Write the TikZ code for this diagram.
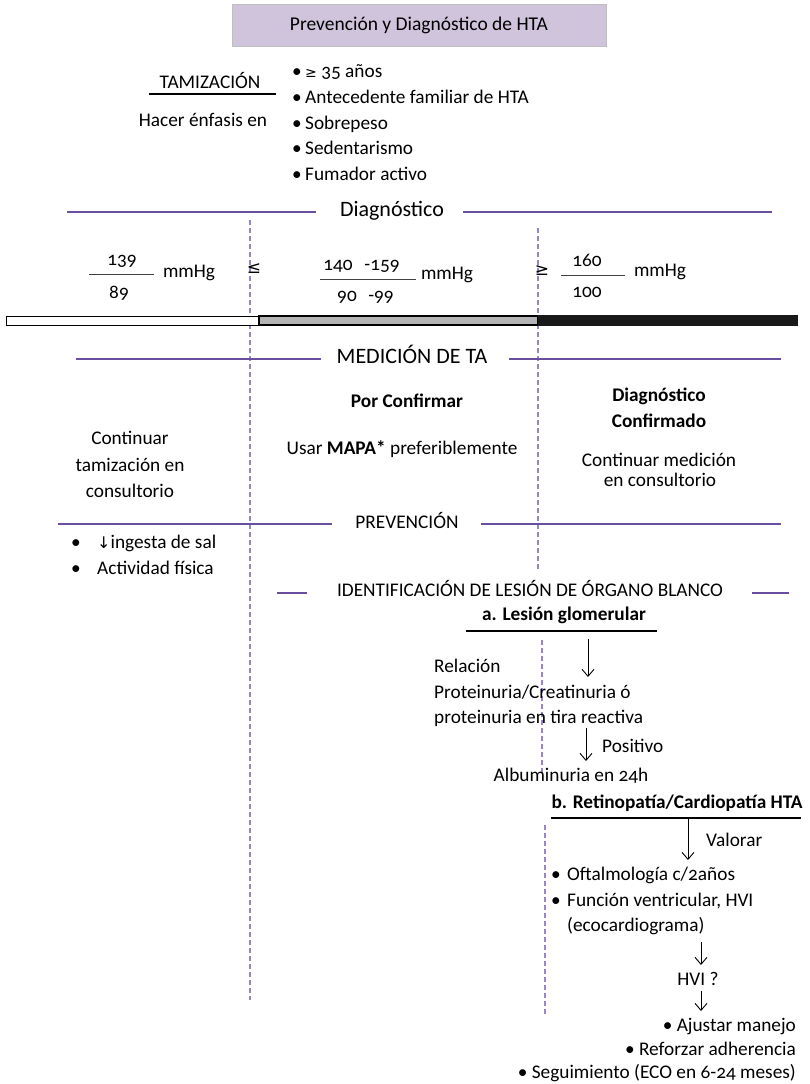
\documentclass[tikz,border=0pt]{standalone}
\usepackage{fontspec}
\setmainfont{Carlito}[Numbers=OldStyle]
\newfontfamily\symfont{DejaVu Sans}
\usetikzlibrary{positioning,arrows.meta}
\definecolor{titlefill}{HTML}{D0C4DC}
\definecolor{rulecol}{HTML}{6A4FA0}
\definecolor{dashcol}{HTML}{9B84C8}
\definecolor{bargray}{HTML}{B4B4B4}
\tikzset{
  txt/.style={inner sep=0pt, text height=12pt, text depth=3pt, font=\fontsize{19.3}{23}\selectfont},
  boldtxt/.style={txt, font=\fontsize{19.3}{23}\selectfont\bfseries},
  headtxt/.style={txt, text height=13pt, font=\fontsize{22}{26}\selectfont},
  symb/.style={inner sep=0pt, font=\symfont\fontsize{17}{20}\selectfont},
  sepline/.style={rulecol, line width=1.1pt},
  vdash/.style={dashcol, line width=1.1pt, dash pattern=on 5pt off 3pt},
  fracline/.style={black!75, line width=0.9pt},
  flow/.style={-{Straight Barb[length=7pt,width=12pt]}, line width=0.9pt},
}
\begin{document}
\begin{tikzpicture}[x=1pt, y=-1pt]
    \useasboundingbox (0,0) rectangle (810,1084);

    % Title
    \node[draw=black!25, fill=titlefill, minimum width=374pt, minimum height=42pt, inner sep=0pt,
          font=\fontsize{19.5}{23}\selectfont] (title) at (419,25) {Prevención y Diagnóstico de HTA};

    % Tamizacion
    \node[txt] (tamiz) at (210,84) {TAMIZACIÓN};
    \draw[line width=1.8pt] (149,94) -- (276,94);
    \node[txt] (enfasis) at (203,122) {Hacer énfasis en};
    \foreach \yy/\item in {73/{{\symfont\fontsize{14}{16}\selectfont≥} 35 años},
                          99/Antecedente familiar de HTA,
                          125/Sobrepeso,
                          150/Sedentarismo,
                          176/Fumador activo} {
        \node[txt] at (297,\yy) {•};
        \node[txt, anchor=west] at (305,\yy) {\item};
    }

    % Diagnostico
    \node[headtxt] (diag) at (392,211) {Diagnóstico};
    \draw[sepline] (67,212) -- (316,212);
    \draw[sepline] (463,212) -- (772,212);

    % Dashed column limits
    \draw[vdash] (250,220) -- (250,1000);
    \draw[vdash] (538,228) -- (538,570);
    \draw[vdash] (542,640) -- (542,774);
    \draw[vdash] (545,825) -- (545,1015);

    % Pressure ranges
    \node[txt] (sys1) at (122,261) {139};
    \draw[fracline] (89,274) -- (154,274);
    \node[txt] (dia1) at (119,294) {89};
    \node[txt] (mm1) at (189,273) {mmHg};
    \node[symb] (le) at (254,269) {≤};

    \node[txt] (sys2) at (338,266) {140};
    \node[txt] (sys2b) at (382,266) {-159};
    \draw[fracline] (320,279) -- (416,279);
    \node[txt] (dia2) at (347,297) {90};
    \node[txt] (dia2b) at (381,297) {-99};
    \node[txt] (mm2) at (447,275) {mmHg};
    \node[symb] (ge) at (542,271) {≥};

    \node[txt] (sys3) at (587,262) {160};
    \draw[fracline] (561,275) -- (625,275);
    \node[txt] (dia3) at (587,293) {100};
    \node[txt] (mm3) at (660,272) {mmHg};

    % Bar
    \draw[line width=1pt, fill=white] (6,316) rectangle (259,325);
    \draw[line width=2pt, fill=bargray] (259,316) rectangle (538,325);
    \fill[black!90] (538,315) rectangle (798,326);

    % Medicion de TA
    \node[headtxt] (medic) at (412,358) {MEDICIÓN DE TA};
    \draw[sepline] (76,359) -- (321,359);
    \draw[sepline] (509,359) -- (781,359);

    \node[txt] (cont1) at (130,440) {Continuar};
    \node[txt] (cont2) at (130,467) {tamización en};
    \node[txt] (cont3) at (130,493) {consultorio};
    \node[boldtxt] (porconf) at (407,403) {Por Confirmar};
    \node[txt] (mapa) at (402,450) {Usar \textbf{MAPA*} preferiblemente};
    \node[boldtxt] (diagconf) at (659,397) {Diagnóstico};
    \node[boldtxt] (confirm) at (659,423) {Confirmado};
    \node[txt] (contmed) at (659,462) {Continuar medición};
    \node[txt] (enconsul) at (660,482) {en consultorio};

    % Prevencion
    \node[txt] (prev) at (407,524) {PREVENCIÓN};
    \draw[sepline] (58,524) -- (332,524);
    \draw[sepline] (481,524) -- (781,524);
    \node[txt] at (76,544) {•};
    \node[txt, anchor=west] (sal) at (97,544) {{\symfont\fontsize{16}{18}\selectfont↓}ingesta de sal};
    \node[txt] at (76,570) {•};
    \node[txt, anchor=west] (activ) at (97,570) {Actividad física};

    % Lesion de organo blanco
    \node[txt] (lob) at (530,592) {IDENTIFICACIÓN DE LESIÓN DE ÓRGANO BLANCO};
    \draw[sepline] (277,593) -- (307,593);
    \draw[sepline] (752,593) -- (789,593);

    \node[boldtxt] (glom) at (564,616) {a. Lesión glomerular};
    \draw[line width=1.4pt] (466,631) -- (657,631);
    \coordinate (glomtop) at (588,639);
    \coordinate (glombot) at (588,677);
    \draw[flow] (glomtop) -- (glombot);
    \node[txt, anchor=west] (relac1) at (434,668) {Relación};
    \node[txt, anchor=west] (relac2) at (434,694) {Proteinuria/Creatinuria ó};
    \node[txt, anchor=west] (relac3) at (434,719) {proteinuria en tira reactiva};
    \coordinate (reltop) at (586,728);
    \coordinate (relbot) at (586,761);
    \draw[flow] (reltop) -- (relbot);
    \node[txt, anchor=west] (posit) at (602,748) {Positivo};
    \node[txt] (album) at (571,777) {Albuminuria en 24h};

    \node[boldtxt] (retino) at (677,804) {b. Retinopatía/Cardiopatía HTA};
    \draw[line width=1.4pt] (551,818) -- (801,818);
    \coordinate (rettop) at (688,818);
    \coordinate (retbot) at (688,860);
    \draw[flow] (rettop) -- (retbot);
    \node[txt, anchor=west] (valor) at (706,842) {Valorar};
    \node[txt] at (556,876) {•};
    \node[txt, anchor=west] (oftal) at (567,876) {Oftalmología c/2años};
    \node[txt] at (556,902) {•};
    \node[txt, anchor=west] (funcion) at (567,902) {Función ventricular, HVI};
    \node[txt, anchor=west] (eco) at (567,927) {(ecocardiograma)};
    \coordinate (ecobot) at (701,942);
    \coordinate (hvitop) at (701,965);
    \draw[flow] (ecobot) -- (hvitop);
    \node[txt] (hvi) at (698,981) {HVI ?};
    \coordinate (hvibot) at (701,991);
    \coordinate (manejotop) at (701,1011);
    \draw[flow] (hvibot) -- (manejotop);
    \node[txt, anchor=east] (manejo) at (796,1027) {• Ajustar manejo};
    \node[txt, anchor=east] (adher) at (796,1051) {• Reforzar adherencia};
    \node[txt, anchor=east] (seguim) at (796,1074) {• Seguimiento (ECO en 6-24 meses)};
\end{tikzpicture}
\end{document}
